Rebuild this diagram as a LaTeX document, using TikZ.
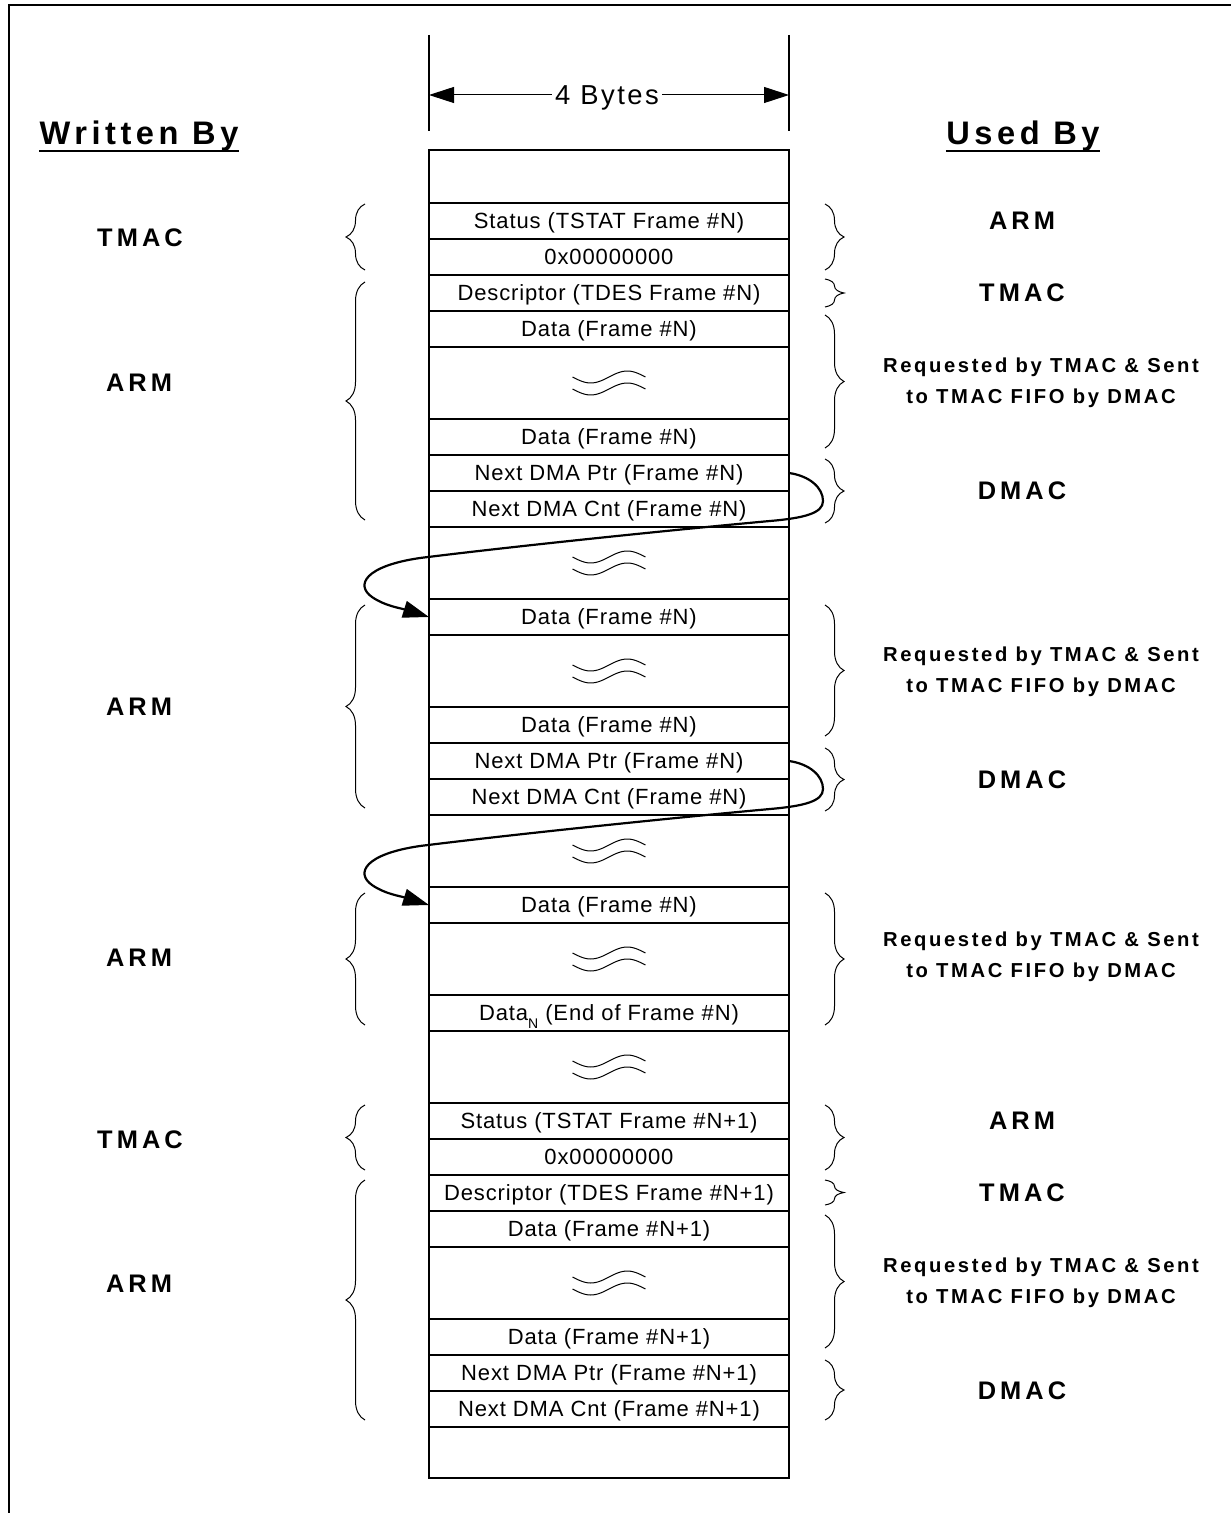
\documentclass[tikz,border=0pt]{standalone}
\usepackage{fontspec}
\setmainfont{Liberation Sans}
\newfontfamily\cellfont[LetterSpace=4]{Liberation Sans}
\newfontfamily\tagfont[LetterSpace=16]{Liberation Sans}
\newfontfamily\notefont[LetterSpace=13]{Liberation Sans}
\newfontfamily\headfont[LetterSpace=14]{Liberation Sans}
\newfontfamily\widthfont[LetterSpace=9]{Liberation Sans}
\usetikzlibrary{arrows.meta, decorations.pathreplacing}

\tikzset{
  cell/.style={draw, line width=0.6pt, minimum width=180pt, minimum height=18pt,
    inner sep=0pt, outer sep=0pt, font=\cellfont\fontsize{11}{12}\selectfont,
    text height=7.8pt, text depth=0pt},
  gapcell/.style={cell, minimum height=36pt},
  tag/.style={font=\tagfont\bfseries\fontsize{12.7}{15}\selectfont, inner sep=0pt,
    text height=9pt, text depth=0pt},
  note/.style={font=\notefont\bfseries\fontsize{10.1}{15.5}\selectfont, align=center, inner sep=0pt},
  heading/.style={font=\headfont\bfseries\fontsize{16.3}{19}\selectfont, inner sep=0pt,
    text height=11.6pt, text depth=3.5pt},
  bytes/.style={font=\widthfont\fontsize{13.7}{16}\selectfont, inner sep=1.5pt,
    text height=9.8pt, text depth=0pt},
  lbrace/.style={decorate, decoration={brace, amplitude=9.5pt}, line width=0.5pt},
  ptrarrow/.style={line width=1.1pt, -{Triangle[length=13pt, width=8.5pt]}},
  dimarrow/.style={line width=0.5pt, -{Triangle[length=12.5pt, width=8pt]}},
  wave/.style={line width=0.5pt},
  wavy/.pic={
    \foreach \dy in {-6,6}
      \draw[wave] plot[domain=0:1, samples=30, smooth, variable=\t]
        ({-36.5+73*\t}, {\dy+6*sin(360*\t)});
  }
}

\begin{document}
\begin{tikzpicture}[x=0.5pt, y=-0.5pt]
    \useasboundingbox (0,0) rectangle (1231,1513);
    % page frame
    \draw[line width=0.6pt] (9,1513) -- (9,5) -- (1231,5);

    % headings
    \node[heading] (wb) at (139,136) {Written By};
    \draw[line width=1pt] (wb.south west) -- (wb.south east);
    \node[heading] (ub) at (1023,136) {Used By};
    \draw[line width=1pt] (ub.south west) -- (ub.south east);

    % width of one entry
    \coordinate (ltick) at (429,35);
    \coordinate (rtick) at (789,35);
    \draw[line width=0.6pt] (ltick) -- ++(0,96);
    \draw[line width=0.6pt] (rtick) -- ++(0,96);
    \node[bytes] (bw) at (607,95) {4 Bytes};
    \draw[dimarrow] (bw.west) -- (bw.west -| ltick);
    \draw[dimarrow] (bw.east) -- (bw.east -| rtick);

    % descriptor list
    \node[draw, line width=0.6pt, minimum width=180pt, minimum height=664pt] (col) at (609,814) {};
    \node[cell] (st1) at (609,221) {Status (TSTAT Frame \#N)};
    \node[cell] (z1)  at (609,257) {0x00000000};
    \node[cell] (ds1) at (609,293) {Descriptor (TDES Frame \#N)};
    \node[cell] (da1) at (609,329) {Data (Frame \#N)};
    \node[gapcell] (w1) at (609,383) {};
    \node[cell] (da2) at (609,437) {Data (Frame \#N)};
    \node[cell] (np1) at (609,473) {Next DMA Ptr (Frame \#N)};
    \node[cell] (nc1) at (609,509) {Next DMA Cnt (Frame \#N)};
    \node[gapcell] (w2) at (609,563) {};
    \node[cell] (da3) at (609,617) {Data (Frame \#N)};
    \node[gapcell] (w3) at (609,671) {};
    \node[cell] (da4) at (609,725) {Data (Frame \#N)};
    \node[cell] (np2) at (609,761) {Next DMA Ptr (Frame \#N)};
    \node[cell] (nc2) at (609,797) {Next DMA Cnt (Frame \#N)};
    \node[gapcell] (w4) at (609,851) {};
    \node[cell] (da5) at (609,905) {Data (Frame \#N)};
    \node[gapcell] (w5) at (609,959) {};
    \node[cell] (dn)  at (609,1013) {Data\raisebox{-0.35em}{\fontsize{7}{8}\selectfont N} (End of Frame \#N)};
    \node[gapcell] (w6) at (609,1067) {};
    \node[cell] (st2) at (609,1121) {Status (TSTAT Frame \#N+1)};
    \node[cell] (z2)  at (609,1157) {0x00000000};
    \node[cell] (ds2) at (609,1193) {Descriptor (TDES Frame \#N+1)};
    \node[cell] (da6) at (609,1229) {Data (Frame \#N+1)};
    \node[gapcell] (w7) at (609,1283) {};
    \node[cell] (da7) at (609,1337) {Data (Frame \#N+1)};
    \node[cell] (np3) at (609,1373) {Next DMA Ptr (Frame \#N+1)};
    \node[cell] (nc3) at (609,1409) {Next DMA Cnt (Frame \#N+1)};
    \foreach \i in {1,...,7}
        \pic at (w\i) {wavy};

    % next pointers
    \foreach \src/\dst/\dy in {np1/da3/0, np2/da5/288}
        \draw[ptrarrow, shift={(0,\dy)}] (\src.east)
            .. controls (810,476) and (823,488) .. (823,501)
            .. controls (823,513) and (805,518) .. (770,521)
            .. controls (650,532) and (500,548) .. (420,558)
            .. controls (365,566) and (355,585) .. (372,597)
            .. controls (385,606) and (400,608) .. (\dst.west);

    % written by
    \draw[lbrace] (365,270) -- (365,204);
    \draw[lbrace] (365,520) -- (365,282);
    \draw[lbrace] (365,808) -- (365,605);
    \draw[lbrace] (365,1025) -- (365,893);
    \draw[lbrace] (365,1170) -- (365,1105);
    \draw[lbrace] (365,1420) -- (365,1180);
    \node[tag] (wt1) at (140,238) {TMAC};
    \node[tag] (wa1) at (139,383) {ARM};
    \node[tag] (wa2) at (139,706) {ARM};
    \node[tag] (wa3) at (139,957) {ARM};
    \node[tag] (wt2) at (140,1139) {TMAC};
    \node[tag] (wa4) at (139,1283) {ARM};

    % used by
    \draw[lbrace] (825,204) -- (825,270);
    \draw[lbrace] (825,279) -- (825,307);
    \draw[lbrace] (825,315) -- (825,448);
    \draw[lbrace] (825,459) -- (825,523);
    \draw[lbrace] (825,605) -- (825,736);
    \draw[lbrace] (825,748) -- (825,811);
    \draw[lbrace] (825,893) -- (825,1025);
    \draw[lbrace] (825,1105) -- (825,1170);
    \draw[lbrace] (825,1180) -- (825,1205);
    \draw[lbrace] (825,1215) -- (825,1348);
    \draw[lbrace] (825,1360) -- (825,1420);
    \node[tag] (ua1) at (1022,221) {ARM};
    \node[tag] (ut1) at (1022,293) {TMAC};
    \node[note] (ur1) at (1041,383) {Requested by TMAC \& Sent\\to TMAC FIFO by DMAC};
    \node[tag] (ud1) at (1022,490) {DMAC};
    \node[note] (ur2) at (1041,672) {Requested by TMAC \& Sent\\to TMAC FIFO by DMAC};
    \node[tag] (ud2) at (1022,779) {DMAC};
    \node[note] (ur3) at (1041,957) {Requested by TMAC \& Sent\\to TMAC FIFO by DMAC};
    \node[tag] (ua2) at (1022,1120) {ARM};
    \node[tag] (ut2) at (1022,1192) {TMAC};
    \node[note] (ur4) at (1041,1283) {Requested by TMAC \& Sent\\to TMAC FIFO by DMAC};
    \node[tag] (ud3) at (1022,1390) {DMAC};
\end{tikzpicture}
\end{document}
